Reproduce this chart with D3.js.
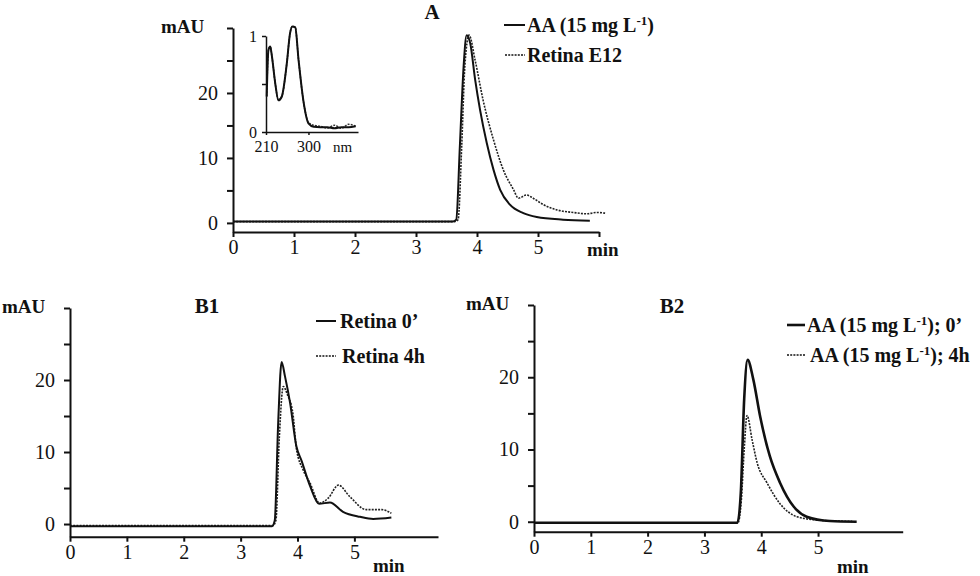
<!DOCTYPE html>
<html>
<head>
<meta charset="utf-8">
<script src="https://cdn.jsdelivr.net/npm/d3@7"></script>
<style>
  body { margin: 0; background: #fff; }
</style>
</head>
<body>
<svg id="chart" width="980" height="576"></svg>
<script>
// ---- data ----
// Panel A: AA standard vs Retina E12 (time in min, signal in mAU)
const tA_aa    = [0, 1, 2, 3, 3.6, 3.66, 3.72, 3.78, 3.83, 3.89, 3.97, 4.05, 4.16, 4.27, 4.38, 4.54, 4.76, 4.98, 5.41, 5.85];
const vA_aa    = [0.2, 0.2, 0.2, 0.2, 0.2, 0.5, 12, 24, 28.9, 27.6, 22, 17.4, 12.3, 8.2, 5.1, 2.8, 1.5, 0.9, 0.5, 0.35];
const tA_ret   = [0, 1, 2, 3, 3.63, 3.69, 3.75, 3.8, 3.87, 3.97, 4.1, 4.27, 4.43, 4.6, 4.68, 4.81, 4.92, 5.09, 5.31, 5.58, 5.8, 5.96, 6.1];
const vA_ret   = [0.2, 0.2, 0.2, 0.2, 0.2, 0.5, 12, 24, 28.9, 25, 18.9, 12.8, 8.2, 5.1, 3.8, 4.3, 3.8, 2.8, 2.0, 1.6, 1.4, 1.6, 1.5];

// Inset: UV spectrum (nm, normalised absorbance)
const nmInset  = [211.5, 215, 219, 222.5, 229.5, 236.5, 243.5, 254, 261, 266, 272, 279, 290, 300, 311, 325, 340, 355, 370, 385, 400];
const absAA    = [0.37, 0.85, 0.89, 0.79, 0.51, 0.33, 0.37, 0.71, 1.03, 1.1, 1.09, 0.75, 0.3, 0.09, 0.055, 0.05, 0.05, 0.04, 0.05, 0.05, 0.06];
const absRet   = [0.37, 0.85, 0.89, 0.79, 0.51, 0.33, 0.37, 0.71, 1.03, 1.1, 1.09, 0.75, 0.3, 0.1, 0.07, 0.06, 0.04, 0.07, 0.04, 0.08, 0.06];

// Panel B1: Retina 0' vs 4h
const tB1_0    = [0, 1, 2, 3, 3.55, 3.6, 3.66, 3.72, 3.78, 3.87, 3.98, 4.07, 4.22, 4.38, 4.57, 4.8, 5.1, 5.33, 5.65];
const vB1_0    = [-0.3, -0.3, -0.3, -0.3, -0.3, 0.5, 14, 22.5, 20.5, 16.8, 10.8, 8.8, 5.3, 2.8, 3.0, 1.7, 1.0, 0.7, 0.9];
const tB1_4h   = [0, 1, 2, 3, 3.57, 3.62, 3.68, 3.75, 3.82, 3.92, 3.98, 4.1, 4.22, 4.39, 4.54, 4.72, 4.92, 5.21, 5.48, 5.65];
const vB1_4h   = [-0.2, -0.2, -0.2, -0.2, -0.2, 0.5, 12, 19.1, 18, 15.3, 10.5, 7.5, 5.7, 2.9, 3.6, 5.4, 3.8, 2.0, 2.0, 1.5];

// Panel B2: AA standard 0' vs 4h
const tB2_0    = [0, 1, 2, 3, 3.58, 3.64, 3.7, 3.76, 3.86, 3.98, 4.15, 4.33, 4.57, 4.8, 5.21, 5.68];
const vB2_0    = [-0.15, -0.15, -0.15, -0.15, -0.15, 4, 17, 22.4, 19.7, 14.6, 9.1, 5.4, 2.1, 0.7, 0.1, 0.0];
const tB2_4h   = [0, 1, 2, 3, 3.59, 3.65, 3.7, 3.75, 3.84, 3.93, 4.1, 4.33, 4.63, 5.04, 5.6];
const vB2_4h   = [-0.15, -0.15, -0.15, -0.15, -0.15, 3, 10, 14.7, 11.3, 8.1, 5.4, 2.5, 0.7, 0.2, 0.05];

const yTicks = [0, 5, 10, 15, 20, 25, 30];
const yLabels = [0, 10, 20];

const SERIF = "'Liberation Serif', 'Times New Roman', Times, 'DejaVu Serif', serif";
const svg = d3.select("#chart");
const zip = (xs, ys) => xs.map((x, i) => [x, ys[i]]);

function label(g, x, y, txt, size, bold) {
  return g.append("text").attr("x", x).attr("y", y)
    .style("font-family", SERIF).style("font-size", size + "px")
    .style("font-weight", bold ? "bold" : "normal").style("fill", "#111")
    .text(txt);
}

function panel(cfg) {
  const x = d3.scaleLinear().domain(cfg.xDomain).range(cfg.xRange);
  const y = d3.scaleLinear().domain(cfg.yDomain).range(cfg.yRange);
  const g = svg.append("g");

  // y axis
  const ya = g.append("g")
    .attr("transform", `translate(${cfg.xRange[0]},0)`)
    .call(d3.axisLeft(y).tickValues(yTicks).tickSize(6).tickSizeOuter(0).tickPadding(9)
      .tickFormat(d => yLabels.includes(d) ? d : ""));
  ya.select(".domain").attr("stroke", "#111").attr("stroke-width", 2);
  ya.selectAll(".tick line").attr("stroke", "#111").attr("stroke-width", 2);
  ya.selectAll("text").style("font-family", SERIF).style("font-size", "20px").style("fill", "#111");

  // x axis
  const xa = g.append("g")
    .attr("transform", `translate(0,${cfg.yRange[0]})`)
    .call(d3.axisBottom(x).tickValues(cfg.xTicks).tickSize(5).tickSizeOuter(0).tickPadding(3)
      .tickFormat(d => d <= 5 ? d : ""));
  xa.select(".domain").attr("stroke", "#111").attr("stroke-width", 2);
  xa.selectAll(".tick line").attr("stroke", "#111").attr("stroke-width", 2);
  xa.selectAll("text").style("font-family", SERIF).style("font-size", "20px").style("fill", "#111");

  // curves
  const line = d3.line().x(d => x(d[0])).y(d => y(d[1])).curve(d3.curveMonotoneX);
  g.append("path").datum(zip(cfg.series[1].t, cfg.series[1].v))
    .attr("d", line).attr("fill", "none").attr("stroke", "#222")
    .attr("stroke-width", 1.6).attr("stroke-dasharray", "2,1.2");
  g.append("path").datum(zip(cfg.series[0].t, cfg.series[0].v))
    .attr("d", line).attr("fill", "none").attr("stroke", "#111")
    .attr("stroke-width", cfg.solidWidth);

  // labels
  label(g, cfg.mau[0], cfg.mau[1], "mAU", 19, true);
  label(g, cfg.title[0], cfg.title[1], cfg.titleText, 21, true).attr("text-anchor", "middle");
  label(g, cfg.min[0], cfg.min[1], "min", 19, true);

  // legend
  cfg.legend.forEach((L, i) => {
    g.append("line").attr("x1", L.x1).attr("x2", L.x2).attr("y1", L.y).attr("y2", L.y)
      .attr("stroke", "#111").attr("stroke-width", i === 0 ? cfg.solidWidth : 1.4)
      .attr("stroke-dasharray", i === 0 ? null : "2,1.2");
    const t = label(g, L.tx, L.y + 7, "", 20, true);
    L.parts.forEach(p => {
      if (p.sup) t.append("tspan").attr("dy", -7).style("font-size", "13px").text(p.s);
      else t.append("tspan").attr("dy", p.after ? 7 : 0).text(p.s);
    });
  });
  return { x, y, g };
}

const aaLabel = (tail) => [{ s: "AA (15 mg L" }, { s: "-1", sup: true }, { s: ")" + tail, after: true }];

panel({
  xDomain: [0, 6], xRange: [233, 599], xTicks: [0, 1, 2, 3, 4, 5, 6],
  yDomain: [-1.4, 30], yRange: [232, 28], solidWidth: 2,
  series: [{ t: tA_aa, v: vA_aa }, { t: tA_ret, v: vA_ret }],
  mau: [161, 33], title: [432, 19], titleText: "A", min: [587, 256],
  legend: [
    { x1: 504, x2: 525, y: 25, tx: 527, parts: aaLabel("") },
    { x1: 505, x2: 525, y: 55, tx: 527, parts: [{ s: "Retina E12" }] }
  ]
});

panel({
  xDomain: [0, 6.47], xRange: [70, 438], xTicks: [0, 1, 2, 3, 4, 5],
  yDomain: [-1.76, 30], yRange: [536.7, 308], solidWidth: 2,
  series: [{ t: tB1_0, v: vB1_0 }, { t: tB1_4h, v: vB1_4h }],
  mau: [2, 313], title: [207, 313], titleText: "B1", min: [373, 572],
  legend: [
    { x1: 316, x2: 336, y: 321, tx: 340, parts: [{ s: "Retina 0\u2019" }] },
    { x1: 316, x2: 336, y: 356, tx: 342, parts: [{ s: "Retina 4h" }] }
  ]
});

panel({
  xDomain: [0, 6.49], xRange: [534, 902.7], xTicks: [0, 1, 2, 3, 4, 5],
  yDomain: [-1.38, 30], yRange: [531.7, 305], solidWidth: 2.6,
  series: [{ t: tB2_0, v: vB2_0 }, { t: tB2_4h, v: vB2_4h }],
  mau: [466, 310], title: [672, 313], titleText: "B2", min: [837, 573],
  legend: [
    { x1: 787, x2: 805, y: 325, tx: 807, parts: aaLabel("; 0\u2019") },
    { x1: 787, x2: 805, y: 355, tx: 810, parts: aaLabel("; 4h") }
  ]
});

// ---- inset spectrum in panel A ----
const xi = d3.scaleLinear().domain([210, 405]).range([266, 358]);
const yi = d3.scaleLinear().domain([0, 1]).range([132, 36]);
const inset = svg.append("g");
const yia = inset.append("g").attr("transform", "translate(266,0)")
  .call(d3.axisLeft(yi).tickValues([0, 0.5, 1]).tickSize(4).tickSizeOuter(0).tickPadding(5)
    .tickFormat(d => d === 0.5 ? "" : d));
const xia = inset.append("g").attr("transform", "translate(0,132)")
  .call(d3.axisBottom(xi).tickValues([210, 300]).tickSize(3).tickSizeOuter(0).tickPadding(6));
[yia, xia].forEach(a => {
  a.selectAll(".domain, .tick line").attr("stroke", "#111").attr("stroke-width", 1.5);
  a.selectAll("text").style("font-family", SERIF).style("font-size", "16px").style("fill", "#111");
});
const iline = d3.line().x(d => xi(d[0])).y(d => yi(d[1])).curve(d3.curveMonotoneX);
inset.append("path").datum(zip(nmInset, absRet)).attr("d", iline).attr("fill", "none")
  .attr("stroke", "#333").attr("stroke-width", 1.5).attr("stroke-dasharray", "2,1.2");
inset.append("path").datum(zip(nmInset, absAA)).attr("d", iline).attr("fill", "none")
  .attr("stroke", "#111").attr("stroke-width", 2);
label(inset, 333, 152, "nm", 15, false);
</script>
</body>
</html>
